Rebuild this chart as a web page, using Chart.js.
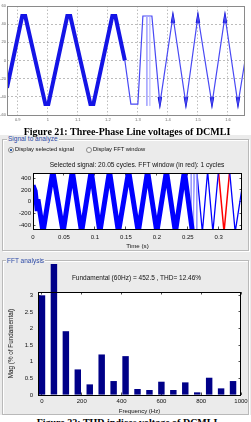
<!DOCTYPE html>
<html>
<head>
<meta charset="utf-8">
<script src="https://cdn.jsdelivr.net/npm/chart.js@4.4.0/dist/chart.umd.min.js"></script>
<style>
  body { margin: 0; width: 251px; height: 422px; overflow: hidden; background: #fff; position: relative;
         font-family: "Liberation Sans", Arial, sans-serif; }
  canvas { position: absolute; }
  .cap { position: absolute; left: 0; width: 254px; text-align: center; font-family: "Liberation Serif", serif;
         font-weight: bold; font-size: 10px; line-height: 12px; color: #000; white-space: nowrap; z-index: 5; }
  #gui { position: absolute; left: 0; top: 135px; width: 251px; height: 280px; background: #ebebeb; }
  .box { position: absolute; border: 1px solid #b9b9b9; box-shadow: 1px 1px 0 #fff inset, 1px 1px 0 #fff; }
  .ttl { position: absolute; font-size: 6.5px; line-height: 7px; color: #2d4aa6; background: #ebebeb; padding: 0 1px; z-index: 3; }
  .txt { position: absolute; color: #111; white-space: nowrap; z-index: 3; }
  .radio { position: absolute; width: 4px; height: 4px; border-radius: 50%; border: 0.7px solid #8a8a8a; background: #f6f6f6; z-index: 3; }
  .radio.on { background: radial-gradient(circle, #2f5fa8 0 1.2px, #f6f6f6 1.4px); }
</style>
</head>
<body>
<canvas id="phase_chart" width="251" height="126" style="left:0;top:0"></canvas>
<div class="cap" style="top:126px">Figure 21: Three-Phase Line voltages of DCMLI</div>

<div id="gui"></div>
<div class="box" style="left:2px;top:139px;width:245px;height:110px"></div>
<div class="ttl" style="left:7px;top:134.5px">Signal to analyze</div>
<div class="radio on" style="left:8px;top:147px"></div>
<div class="txt" style="left:15px;top:145.5px;font-size:5.8px">Display selected signal</div>
<div class="radio" style="left:86px;top:147px"></div>
<div class="txt" style="left:93px;top:145.5px;font-size:5.8px">Display FFT window</div>
<div class="txt" style="left:0;width:274px;text-align:center;top:160.5px;font-size:6.6px">Selected signal: 20.05 cycles. FFT window (in red): 1 cycles</div>
<canvas id="signal_chart" width="251" height="84" style="left:0;top:166px"></canvas>

<div class="box" style="left:2px;top:260px;width:245px;height:153px"></div>
<div class="ttl" style="left:6px;top:256.5px">FFT analysis</div>
<div class="txt" style="left:0;width:273px;text-align:center;top:274px;font-size:6.5px">Fundamental (60Hz) = 452.5 , THD= 12.46%</div>
<canvas id="fft_chart" width="251" height="153" style="left:0;top:264px"></canvas>

<div class="cap" style="top:417px">Figure 22: THD indices voltage of DCMLI</div>

<script>
// ---- top figure: line voltages ----
const phaseXTicks = [0.9, 1, 1.1, 1.2, 1.3, 1.4, 1.5, 1.6];
const phaseYTicks = [-60, -40, -20, 0, 20, 40, 60];
const phaseDenseX = [0.8643, 0.915, 0.925, 0.992, 1.002, 1.065, 1.075, 1.142, 1.152, 1.215, 1.225, 1.2567];
const phaseDenseY = [-30, 49, 49, -48, -48, 49, 49, -48, -48, 49, 49, 0];
const phaseThinX = [1.2567, 1.2767, 1.30, 1.3167, 1.3467, 1.3733, 1.4167, 1.46, 1.50, 1.5467, 1.59, 1.6333, 1.6567];
const phaseThinY = [0, -48, -48, 49, 49, -48, 49, -48, 49, -48, 49, -48, 0];
const phaseCapX = [1.4124, 1.4167, 1.421, 1.45, 1.4957, 1.50, 1.5043, 1.55, 1.5857, 1.59, 1.5943, 1.36,
                   1.369, 1.3733, 1.3776, 1.40, 1.4557, 1.46, 1.4643, 1.50, 1.5424, 1.5467, 1.551, 1.60, 1.629, 1.6333, 1.6376];
const phaseCapY = [41, 49, 41, null, 41, 49, 41, null, 41, 49, 41, null,
                   -40, -48, -40, null, -40, -48, -40, null, -40, -48, -40, null, -40, -48, -40];
const phaseSpikeX = [1.33, 1.33, 1.335, 1.34, 1.34];
const phaseSpikeY = [49, -50, null, -50, 49];

// ---- signal to analyze ----
const sigXTicks = [0, 0.05, 0.1, 0.15, 0.2, 0.25, 0.3];
const sigYTicks = [-400, -200, 0, 200, 400];
const sigDenseT = [0, 0.0035, 0.0065, 0.008, 0.0095, 0.0162, 0.032, 0.0487, 0.0635, 0.0785, 0.094, 0.108,
                   0.1235, 0.138, 0.1545, 0.170, 0.185, 0.200, 0.2155, 0.230, 0.2445, 0.2575];
const sigDenseV = [280, 180, -120, 40, -60, -520, 520, -520, 520, -520, 520, -520,
                   520, -520, 520, -520, 520, -520, 520, -520, 520, -520];
const sigLightT = [0.2575, 0.2615, 0.258, 0.2555, 0.2555, 0.257, 0.2595, 0.2595, 0.262, 0.2645, 0.2645];
const sigLightV = [-520, 520, null, 520, -520, null, -520, 520, null, 520, -520];
const sigThinT = [0.2645, 0.2735, 0.282, 0.2905, 0.2995, 0.305, 0.3175, 0.3265, 0.3375];
const sigThinV = [520, -520, 520, -520, 520, null, 520, -520, 230];
const fftWinT = [0.2995, 0.3085, 0.3175];
const fftWinV = [520, -520, 520];

// ---- FFT analysis ----
const fftXTicks = [0, 200, 400, 600, 800, 1000];
const fftYTicks = [0, 0.5, 1, 1.5, 2, 2.5, 3];
const fftFreq = [0, 60, 120, 180, 240, 300, 360, 420, 480, 540, 600, 660, 720, 780, 840, 900, 960];
const fftMag = [3.0, 100, 1.92, 0.77, 0.32, 1.22, 0.42, 1.17, 0.18, 0.15, 0.40, 0.15, 0.38, 0.08, 0.52, 0.20, 0.42];

Chart.defaults.font.family = '"Liberation Sans", Arial, sans-serif';
Chart.defaults.animation = false;
Chart.defaults.plugins.legend.display = false;
Chart.defaults.plugins.tooltip.enabled = false;

function pts(xs, ys) { return xs.map((x, i) => ({ x: x, y: ys[i] })); }
function setTicks(list) { return s => { s.ticks = list.map(v => ({ value: v })); }; }
function boxSize(size) {
  return s => {
    if (s.isHorizontal()) s.height = size; else s.width = size;
    s.paddingTop = s.paddingBottom = s.paddingLeft = s.paddingRight = 0;
  };
}
function line(data, color, width) {
  return { data: data, borderColor: color, borderWidth: width, pointRadius: 0, tension: 0, fill: false };
}

const whiteArea = {
  id: 'whiteArea',
  beforeDraw(chart) {
    const { ctx, chartArea: a } = chart;
    ctx.save(); ctx.fillStyle = '#fff'; ctx.fillRect(a.left, a.top, a.width, a.height); ctx.restore();
  }
};
const frame = {
  id: 'frame',
  afterDraw(chart, args, opts) {
    const { ctx, chartArea: a } = chart;
    ctx.save();
    ctx.strokeStyle = opts.color || '#000';
    ctx.lineWidth = 1;
    ctx.strokeRect(Math.round(a.left) + 0.5, Math.round(a.top) + 0.5, Math.round(a.width) - 1, Math.round(a.height));
    ctx.restore();
  }
};

// axis with inward ticks, MATLAB style
function guiAxis(position, min, max, list, size, showLabels, pad) {
  return {
    type: 'linear', position: position, min: min, max: max, offset: false,
    afterBuildTicks: setTicks(list),
    afterFit: boxSize(size),
    grid: { drawOnChartArea: false, drawTicks: true, tickLength: -2.5, color: '#222', lineWidth: 0.8, offset: false },
    border: { display: false },
    ticks: { display: showLabels, padding: pad, color: '#111', font: { size: 6 }, callback: v => String(v) }
  };
}

new Chart(document.getElementById('phase_chart'), {
  type: 'line',
  data: {
    datasets: [
      line(pts(phaseDenseX, phaseDenseY), '#1414e6', 4),
      line(pts(phaseSpikeX, phaseSpikeY), '#a8a8ff', 1),
      line(pts(phaseThinX, phaseThinY), '#4848f4', 1.2),
      line(pts(phaseCapX, phaseCapY), '#0000cc', 2)
    ]
  },
  options: {
    responsive: false,
    layout: { padding: { top: 6, right: 6, left: 0, bottom: 0 } },
    plugins: { frame: { color: '#8a8a8a' } },
    scales: {
      x: {
        type: 'linear', min: 0.8643, max: 1.6567,
        afterBuildTicks: setTicks(phaseXTicks), afterFit: boxSize(11),
        grid: { color: '#a0a0a0', lineWidth: 0.7, drawTicks: false },
        border: { display: false, dash: [1.5, 2] },
        ticks: { padding: 2.6, color: '#666', font: { size: 4 }, callback: v => String(v) }
      },
      y: {
        type: 'linear', min: -60, max: 60,
        afterBuildTicks: setTicks(phaseYTicks), afterFit: boxSize(7),
        grid: { color: '#a0a0a0', lineWidth: 0.7, drawTicks: false },
        border: { display: false, dash: [2, 2] },
        ticks: { padding: 1, color: '#666', font: { size: 4 }, callback: v => String(v) }
      }
    }
  },
  plugins: [frame]
});

new Chart(document.getElementById('signal_chart'), {
  type: 'line',
  data: {
    datasets: [
      line(pts(sigDenseT, sigDenseV), '#0000ff', 5),
      line(pts(sigLightT, sigLightV), '#9a9aff', 1),
      line(pts(sigThinT, sigThinV), '#0000ff', 1.3),
      line(pts(fftWinT, fftWinV), '#ff0000', 1.5)
    ]
  },
  options: {
    responsive: false,
    layout: { padding: { top: 7, right: 9, left: 0, bottom: 0 } },
    scales: {
      x: Object.assign(guiAxis('bottom', 0, 0.3375, sigXTicks, 21, true, 7.2),
        { title: { display: true, text: 'Time (s)', color: '#111', font: { size: 6.2 }, padding: { top: 0, bottom: 0.3 } } }),
      x2: guiAxis('top', 0, 0.3375, sigXTicks, 0, false, 0),
      y: guiAxis('left', -467, 490, sigYTicks, 33, true, 4.5),
      y2: guiAxis('right', -467, 490, sigYTicks, 0, false, 0)
    }
  },
  plugins: [whiteArea, frame]
});

new Chart(document.getElementById('fft_chart'), {
  type: 'bar',
  data: {
    datasets: [{
      data: pts(fftFreq, fftMag),
      backgroundColor: '#000088',
      borderWidth: 0,
      barPercentage: 0.54,
      categoryPercentage: 1,
      clip: false
    }]
  },
  options: {
    responsive: false,
    layout: { padding: { top: 28, right: 10, left: 0, bottom: 0 } },
    scales: {
      x: Object.assign(guiAxis('bottom', -20, 1000, fftXTicks, 22, true, 5.4),
        { title: { display: true, text: 'Frequency (Hz)', color: '#111', font: { size: 6 }, padding: { top: 0, bottom: 2.4 } } }),
      x2: guiAxis('top', -20, 1000, fftXTicks, 0, false, 0),
      y: Object.assign(guiAxis('left', 0, 3.1, fftYTicks, 38, true, 7.5),
        { title: { display: true, text: 'Mag (% of Fundamental)', color: '#111', font: { size: 6.3 }, padding: { top: 7.9, bottom: 0 } } }),
      y2: guiAxis('right', 0, 3.1, fftYTicks, 0, false, 0)
    }
  },
  plugins: [whiteArea, frame]
});
</script>
</body>
</html>
